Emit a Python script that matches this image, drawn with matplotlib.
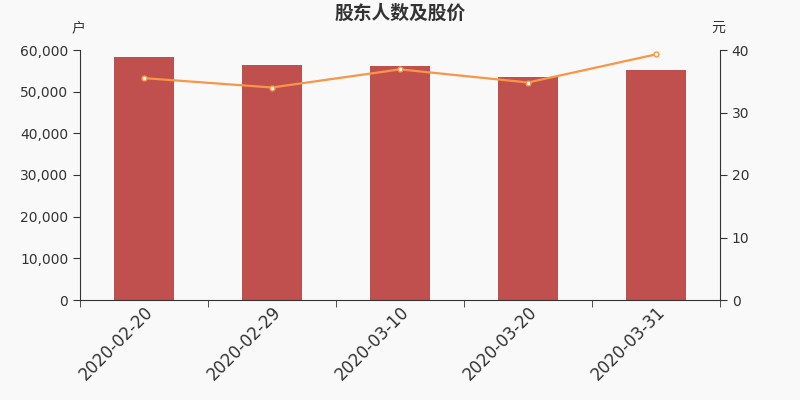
import matplotlib
matplotlib.use("Agg")
import matplotlib.pyplot as plt
from matplotlib.ticker import FuncFormatter, FixedLocator

plt.rcParams['font.family'] = ['DejaVu Sans', 'Noto Sans CJK SC']

dates = ["2020-02-20", "2020-02-29", "2020-03-10", "2020-03-20", "2020-03-31"]
holders = [58300, 56400, 56200, 53500, 55200]
prices = [35.5, 34.0, 36.9, 34.8, 39.3]

bar_color = "#c0504d"
line_color = "#f79646"
axis_color = "#333333"
bg = "#f9f9f9"

fig = plt.figure(figsize=(8, 4), dpi=100, facecolor=bg)
ax = fig.add_axes([0.1, 0.25, 0.8, 0.625], facecolor=bg)
ax2 = ax.twinx()

x = list(range(len(dates)))
ax.bar(x, holders, width=0.47, color=bar_color, zorder=2)
ax.set_xlim(-0.5, len(dates) - 0.5)
ax.set_ylim(0, 60000)
ax.set_yticks(range(0, 60001, 10000))
ax.yaxis.set_major_formatter(FuncFormatter(lambda v, p: f"{int(v):,}"))

ax2.plot(x, prices, color=line_color, lw=1.6, marker="o", ms=3.5,
         mfc="white", mec=line_color, mew=1, zorder=3)
ax2.set_ylim(0, 40)
ax2.set_yticks(range(0, 41, 10))

# x ticks: labels at centers, tick marks at boundaries
ax.set_xticks(x)
ax.set_xticklabels(dates, rotation=45, ha="right", rotation_mode="anchor",
                   fontsize=12, color=axis_color)
ax.tick_params(axis="x", which="major", length=0, pad=2)
ax.xaxis.set_minor_locator(FixedLocator([i - 0.5 for i in range(len(dates) + 1)]))
ax.tick_params(axis="x", which="minor", length=5, color=axis_color)

for a in (ax, ax2):
    a.spines["top"].set_visible(False)
    for s in ("left", "right", "bottom"):
        a.spines[s].set_color(axis_color)
    a.tick_params(axis="y", labelsize=10, colors=axis_color, length=5)

ax.spines["right"].set_visible(False)
ax2.spines["left"].set_visible(False)
ax2.spines["bottom"].set_visible(False)

fig.text(0.5, 0.967, "股东人数及股价", ha="center", va="center",
         fontsize=13.5, fontweight="bold", color=axis_color,
         family=["Noto Sans CJK SC", "DejaVu Sans"])
fig.text(0.0975, 0.93, "户", ha="center", va="center", fontsize=10,
         color=axis_color, family=["Noto Sans CJK SC", "DejaVu Sans"])
fig.text(0.8975, 0.93, "元", ha="center", va="center", fontsize=10,
         color=axis_color, family=["Noto Sans CJK SC", "DejaVu Sans"])

fig.savefig("out.png", dpi=100, facecolor=bg)
